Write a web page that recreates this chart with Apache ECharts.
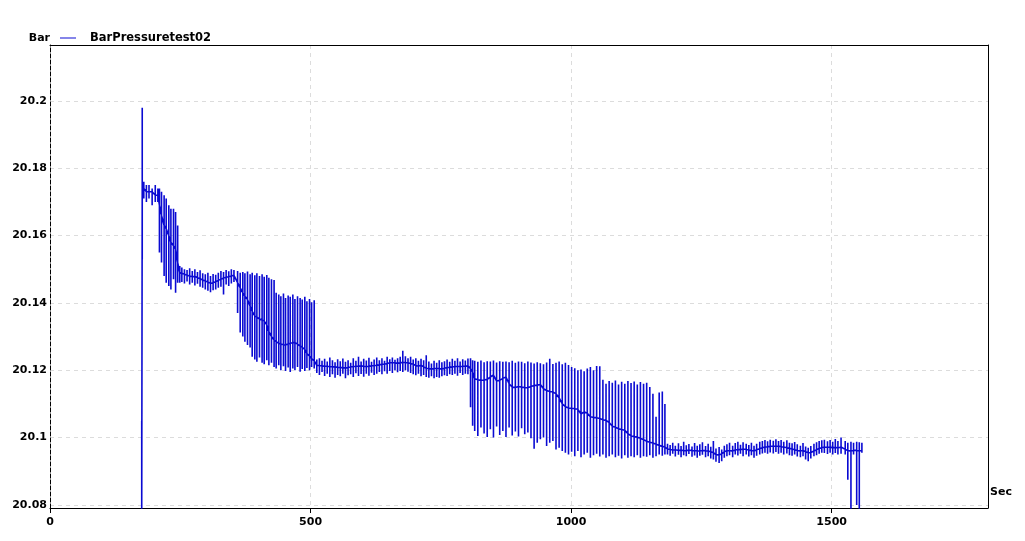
<!DOCTYPE html>
<html>
<head>
<meta charset="utf-8">
<script src="https://cdn.jsdelivr.net/npm/echarts@6/dist/echarts.min.js"></script>
<style>
html, body { margin: 0; padding: 0; background: #ffffff; }
#chart { width: 1025px; height: 541px; }
</style>
</head>
<body>
<div id="chart"></div>
<script>
// ---- data ----
const seriesName = 'BarPressuretest02';
const xAxisName = 'Sec';
const yAxisName = 'Bar';
const xTicks = [0, 500, 1000, 1500];
const yTicks = [20.08, 20.1, 20.12, 20.14, 20.16, 20.18, 20.2];

// time of each oscillation burst (seconds)
const timeSec = [
  176, 177,
  180, 185, 190, 196, 202, 207, 210, 214, 219, 223, 228, 232, 237, 241, 245, 249,
  253, 258, 263, 268, 273, 278, 283, 288, 293, 298, 303, 308, 313, 318, 323, 328, 333, 338, 343, 348, 353,
  360, 365, 370, 374, 379, 384, 388, 393, 397, 402, 407, 411, 416, 420, 425, 430, 434, 439, 443, 448,
  452, 457, 461, 466, 470, 475, 480, 484, 489, 493, 498, 502, 507,
  512, 517, 522, 527, 532, 537, 542, 547, 552, 557, 562, 567, 572, 577, 582, 587, 592, 597, 602, 607,
  612, 617, 622, 627, 632, 637, 642, 647, 652, 657, 662, 667, 672, 677, 682, 687, 692, 697, 702, 707,
  712, 717, 722, 727, 732, 737, 742, 747, 752, 757, 762, 767, 772, 777, 782, 787, 792, 797, 802,
  807, 811,
  815, 821, 827, 833, 839, 845, 851, 857, 863, 869, 875, 881, 887, 893, 899, 905, 911, 917, 923, 929,
  935, 941, 947, 953, 959, 965, 971, 977, 983, 989, 995, 1001, 1007, 1013, 1019, 1025, 1031, 1037, 1043, 1049,
  1055, 1061, 1067, 1073, 1079, 1085, 1091, 1097, 1103, 1109, 1115, 1121, 1127, 1133, 1139, 1145, 1151, 1157, 1163, 1169,
  1175, 1180,
  1185, 1190, 1195, 1200, 1206, 1211, 1216, 1221, 1226, 1232, 1237, 1242, 1247, 1252, 1258, 1263, 1268, 1273, 1278, 1284,
  1289, 1294, 1299, 1304, 1310, 1315, 1320, 1325, 1330, 1336, 1341, 1346, 1351, 1356, 1362, 1367, 1372, 1377, 1382, 1388,
  1393, 1398, 1403, 1408, 1414, 1419, 1424, 1429, 1434, 1440, 1445, 1450, 1455, 1460, 1466, 1471, 1476, 1481, 1486, 1492,
  1497, 1502, 1507, 1512, 1518,
  1526, 1531, 1537, 1542, 1548, 1553, 1558
];

// centre (running) pressure value at each burst (bar)
const midBar = [
  20.078, 20.175,
  20.174, 20.173, 20.173, 20.173, 20.172, 20.172, 20.169, 20.166, 20.163, 20.162, 20.160, 20.158, 20.157, 20.156, 20.152, 20.149,
  20.1488, 20.1485, 20.1482, 20.1480, 20.1478, 20.1479, 20.1475, 20.1472, 20.1468, 20.1465,
  20.1462, 20.1458, 20.1460, 20.1463, 20.1467, 20.1470, 20.1474, 20.1476, 20.1478, 20.1480, 20.1482,
  20.1460, 20.1445, 20.1430, 20.1420, 20.1410, 20.1390, 20.1375, 20.1362, 20.1358, 20.1352,
  20.1350, 20.1346, 20.1335, 20.1315, 20.1300, 20.1290, 20.1285, 20.1280, 20.1278, 20.1276,
  20.1275, 20.1278, 20.1280, 20.1282, 20.1282, 20.1278, 20.1272, 20.1268, 20.1262, 20.1250,
  20.1242, 20.1235, 20.1228,
  20.1215, 20.1214, 20.1213, 20.1212, 20.1212, 20.1211, 20.1210, 20.1210, 20.1209, 20.1208,
  20.1208, 20.1207, 20.1208, 20.1210, 20.1211, 20.1212, 20.1212, 20.1213, 20.1212, 20.1211,
  20.1212, 20.1213, 20.1214, 20.1215, 20.1216, 20.1218, 20.1218, 20.1220, 20.1222, 20.1223,
  20.1222, 20.1221, 20.1222, 20.1224, 20.1223, 20.1222, 20.1220, 20.1218, 20.1214, 20.1212,
  20.1215, 20.1210, 20.1206, 20.1205, 20.1204, 20.1205, 20.1206, 20.1205, 20.1204, 20.1206,
  20.1208, 20.1209, 20.1210, 20.1211, 20.1212, 20.1211, 20.1212, 20.1212, 20.1213,
  20.1205, 20.1195,
  20.1175, 20.1172, 20.1170, 20.1171, 20.1173, 20.1180, 20.1186, 20.1168, 20.1170, 20.1176,
  20.1180, 20.1160, 20.1150, 20.1149, 20.1152, 20.1150, 20.1149, 20.1148, 20.1152, 20.1155,
  20.1156, 20.1158, 20.1145, 20.1140, 20.1137, 20.1136, 20.1130, 20.1118, 20.1100, 20.1092,
  20.1088, 20.1087, 20.1086, 20.1084, 20.1070, 20.1077, 20.1072, 20.1062, 20.1060, 20.1059,
  20.1057, 20.1053, 20.1051, 20.1045, 20.1034, 20.1031, 20.1026, 20.1024, 20.1022, 20.1012,
  20.1005, 20.1003, 20.1001, 20.0998, 20.0994, 20.0989, 20.0986, 20.0984, 20.0980, 20.0977,
  20.0974, 20.0972,
  20.0966, 20.0965, 20.0963, 20.0964, 20.0962, 20.0963, 20.0961, 20.0962, 20.0963, 20.0961,
  20.0962, 20.0960, 20.0961, 20.0962, 20.0961, 20.0960, 20.0958, 20.0955, 20.0950, 20.0948,
  20.0952, 20.0958, 20.0961, 20.0962, 20.0960, 20.0963, 20.0965, 20.0964, 20.0966, 20.0965,
  20.0963, 20.0962, 20.0960, 20.0964, 20.0967, 20.0970, 20.0972, 20.0973, 20.0974, 20.0975,
  20.0974, 20.0975, 20.0973, 20.0972, 20.0970, 20.0968, 20.0966, 20.0964, 20.0962, 20.0960,
  20.0962, 20.0958, 20.0955, 20.0956, 20.0960, 20.0964, 20.0968, 20.0970, 20.0972, 20.0971,
  20.0972, 20.0970, 20.0971, 20.0969, 20.0972,
  20.0965, 20.0962, 20.0960, 20.0962, 20.0962, 20.0960, 20.0962
];

// upper end of each burst (bar)
const highBar = [
  20.105, 20.198,
  20.176, 20.175, 20.175, 20.174, 20.175, 20.174, 20.174, 20.173, 20.172, 20.171, 20.169, 20.168, 20.168, 20.167, 20.163, 20.151,
  20.1505, 20.1500, 20.1498, 20.1503, 20.1495, 20.1500, 20.1492, 20.1497, 20.1488, 20.1485,
  20.1490, 20.1480, 20.1486, 20.1484, 20.1490, 20.1495, 20.1492, 20.1498, 20.1494, 20.1500, 20.1498,
  20.1495, 20.1490, 20.1492, 20.1488, 20.1493, 20.1485, 20.1490, 20.1482, 20.1488, 20.1480,
  20.1485, 20.1478, 20.1483, 20.1475, 20.1470, 20.1468, 20.1430, 20.1425, 20.1420, 20.1428,
  20.1415, 20.1422, 20.1418, 20.1425, 20.1412, 20.1420, 20.1415, 20.1410, 20.1418, 20.1405,
  20.1412, 20.1402, 20.1408,
  20.1232, 20.1236, 20.1228, 20.1234, 20.1226, 20.1238, 20.1230, 20.1224, 20.1233, 20.1227,
  20.1235, 20.1225, 20.1230, 20.1222, 20.1236, 20.1228, 20.1240, 20.1226, 20.1234, 20.1229,
  20.1237, 20.1225, 20.1232, 20.1238, 20.1230, 20.1236, 20.1228, 20.1240, 20.1233, 20.1238,
  20.1231, 20.1236, 20.1240, 20.1258, 20.1242, 20.1236, 20.1240, 20.1232, 20.1236, 20.1228,
  20.1234, 20.1230, 20.1245, 20.1226, 20.1220, 20.1228, 20.1222, 20.1230, 20.1224, 20.1227,
  20.1232, 20.1225, 20.1234, 20.1228, 20.1236, 20.1226, 20.1233, 20.1229, 20.1235,
  20.1236, 20.1230,
  20.1228, 20.1225, 20.1229, 20.1224, 20.1227, 20.1226, 20.1229, 20.1223, 20.1227, 20.1225,
  20.1226, 20.1224, 20.1228, 20.1222, 20.1226, 20.1225, 20.1221, 20.1226, 20.1223, 20.1220,
  20.1224, 20.1221, 20.1218, 20.1223, 20.1234, 20.1219, 20.1222, 20.1226, 20.1218, 20.1222,
  20.1216, 20.1210, 20.1206, 20.1200, 20.1202, 20.1197, 20.1205, 20.1210, 20.1200, 20.1213,
  20.1212, 20.1172, 20.1160, 20.1168, 20.1163, 20.1170, 20.1158, 20.1166, 20.1160, 20.1168,
  20.1162, 20.1167, 20.1158, 20.1165, 20.1160, 20.1163, 20.1150, 20.1130, 20.1062, 20.1134,
  20.1137, 20.1100,
  20.0982, 20.0978, 20.0985, 20.0976, 20.0983, 20.0975, 20.0988, 20.0977, 20.0981, 20.0974,
  20.0984, 20.0976, 20.0980, 20.0986, 20.0975, 20.0982, 20.0973, 20.0990, 20.0968, 20.0972,
  20.0965, 20.0976, 20.0980, 20.0985, 20.0976, 20.0984, 20.0988, 20.0979, 20.0986, 20.0982,
  20.0978, 20.0985, 20.0976, 20.0982, 20.0988, 20.0990, 20.0993, 20.0989, 20.0994, 20.0991,
  20.0995, 20.0990, 20.0993, 20.0988, 20.0992, 20.0985, 20.0983, 20.0987, 20.0980, 20.0976,
  20.0984, 20.0974, 20.0970, 20.0975, 20.0982, 20.0986, 20.0990, 20.0992, 20.0994, 20.0989,
  20.0993, 20.0988, 20.0996, 20.0990, 20.1000,
  20.0990, 20.0985, 20.0988, 20.0985, 20.0988, 20.0986, 20.0985
];

// lower end of each burst (bar)
const lowBar = [
  20.078, 20.153,
  20.171, 20.170, 20.171, 20.169, 20.170, 20.170, 20.155, 20.152, 20.148, 20.146, 20.145, 20.144, 20.147, 20.143, 20.146, 20.146,
  20.1462, 20.1458, 20.1464, 20.1455, 20.1460, 20.1452, 20.1457, 20.1448, 20.1445, 20.1440,
  20.1436, 20.1432, 20.1438, 20.1440, 20.1445, 20.1448, 20.1425, 20.1455, 20.1450, 20.1458, 20.1462,
  20.1370, 20.1312, 20.1300, 20.1285, 20.1275, 20.1268, 20.1240, 20.1232, 20.1225, 20.1238,
  20.1222, 20.1218, 20.1230, 20.1215, 20.1222, 20.1210, 20.1205, 20.1215, 20.1200, 20.1212,
  20.1198, 20.1208, 20.1195, 20.1205, 20.1200, 20.1210, 20.1196, 20.1204, 20.1198, 20.1207,
  20.1200, 20.1210, 20.1205,
  20.1192, 20.1186, 20.1195, 20.1183, 20.1190, 20.1180, 20.1188, 20.1178, 20.1186, 20.1182,
  20.1190, 20.1176, 20.1185, 20.1188, 20.1180, 20.1191, 20.1183, 20.1189, 20.1181, 20.1190,
  20.1184, 20.1193, 20.1186, 20.1190, 20.1195, 20.1188, 20.1197, 20.1190, 20.1198, 20.1192,
  20.1200, 20.1194, 20.1198, 20.1195, 20.1200, 20.1196, 20.1192, 20.1188, 20.1185, 20.1190,
  20.1182, 20.1186, 20.1180, 20.1178, 20.1182, 20.1176, 20.1180, 20.1178, 20.1182, 20.1185,
  20.1183, 20.1188, 20.1186, 20.1190, 20.1184, 20.1192, 20.1186, 20.1190, 20.1188,
  20.1090, 20.1035,
  20.1020, 20.1005, 20.1030, 20.1012, 20.1002, 20.1025, 20.1000, 20.1033, 20.1008, 20.1020,
  20.1002, 20.1030, 20.1006, 20.1018, 20.1003, 20.1028, 20.1010, 20.1015, 20.0998, 20.0967,
  20.0985, 20.0995, 20.1000, 20.0975, 20.0985, 20.0990, 20.0965, 20.0970, 20.0960, 20.0955,
  20.0950, 20.0958, 20.0945, 20.0960, 20.0942, 20.0950, 20.0955, 20.0940, 20.0948, 20.0952,
  20.0944, 20.0950, 20.0940, 20.0945, 20.0950, 20.0942, 20.0946, 20.0938, 20.0948, 20.0940,
  20.0945, 20.0942, 20.0948, 20.0940, 20.0945, 20.0943, 20.0948, 20.0940, 20.0945, 20.0950,
  20.0946, 20.0950,
  20.0950, 20.0946, 20.0952, 20.0944, 20.0949, 20.0942, 20.0948, 20.0945, 20.0951, 20.0943,
  20.0947, 20.0940, 20.0946, 20.0949, 20.0942, 20.0945, 20.0938, 20.0935, 20.0928, 20.0925,
  20.0930, 20.0940, 20.0945, 20.0948, 20.0942, 20.0950, 20.0947, 20.0952, 20.0945, 20.0950,
  20.0944, 20.0948, 20.0940, 20.0946, 20.0950, 20.0953, 20.0955, 20.0952, 20.0956, 20.0953,
  20.0957, 20.0952, 20.0955, 20.0950, 20.0953, 20.0948, 20.0946, 20.0950, 20.0944, 20.0942,
  20.0945, 20.0935, 20.0930, 20.0938, 20.0945, 20.0948, 20.0952, 20.0955, 20.0954, 20.0951,
  20.0955, 20.0950, 20.0954, 20.0950, 20.0952,
  20.0950, 20.0875, 20.0785, 20.0950, 20.0800, 20.0785, 20.0955
];

// ---- build the polyline: each burst is drawn centre -> high -> low -> centre ----
const lineData = [];
timeSec.forEach(function (t, i) {
  lineData.push([t, midBar[i]], [t, highBar[i]], [t, lowBar[i]], [t, midBar[i]]);
});

const FONT = 'DejaVu Sans';
const LINE_COLOR = '#0a0ad2';
const textBase = { color: '#000', fontFamily: FONT, fontWeight: 'bold', fontSize: 11 };

const chart = echarts.init(document.getElementById('chart'), null, { renderer: 'canvas' });
chart.setOption({
  animation: false,
  backgroundColor: '#ffffff',
  grid: { left: 50, right: 37, top: 45, bottom: 33, containLabel: false },
  legend: {
    data: [seriesName],
    left: 55, top: 27,
    icon: 'rect',
    itemWidth: 16, itemHeight: 1,
    selectedMode: false,
    textStyle: Object.assign({}, textBase, { fontSize: 11.5, padding: [0, 0, 0, 9] })
  },
  xAxis: [{
    type: 'value', position: 'bottom',
    min: 0, max: 1800, interval: 500,
    name: xAxisName, nameLocation: 'end', nameGap: 2,
    nameTextStyle: Object.assign({}, textBase, { align: 'left', verticalAlign: 'bottom', padding: [0, 0, 10, 0] }),
    axisLine: { show: true, onZero: false, lineStyle: { color: '#000', width: 1 } },
    axisTick: { show: true, length: 5, customValues: xTicks, lineStyle: { color: '#000' } },
    axisLabel: Object.assign({}, textBase, {
      customValues: xTicks, margin: 9,
      formatter: function (v) { return String(v); }
    }),
    splitLine: { show: true, lineStyle: { color: '#dcdcdc', type: [4, 4], width: 1 } }
  }, {
    type: 'value', position: 'top', min: 0, max: 1800,
    axisLine: { show: true, onZero: false, lineStyle: { color: '#000', width: 1 } },
    axisTick: { show: false }, axisLabel: { show: false }, splitLine: { show: false }
  }],
  yAxis: [{
    type: 'value', position: 'left',
    min: 20.0791, max: 20.2166,
    name: yAxisName, nameLocation: 'end', nameGap: 7,
    nameTextStyle: Object.assign({}, textBase, { align: 'right', verticalAlign: 'middle' }),
    axisLine: { show: true, onZero: false, lineStyle: { color: '#000', type: [4, 2], width: 1 } },
    axisTick: { show: false, customValues: yTicks },
    axisLabel: Object.assign({}, textBase, {
      customValues: yTicks, margin: 3, padding: [0, 0, 6, 0],
      formatter: function (v) { return String(Number(v.toFixed(2))); }
    }),
    splitLine: { show: true, lineStyle: { color: '#dcdcdc', type: [4, 4], width: 1 } }
  }, {
    type: 'value', position: 'right', min: 20.0791, max: 20.2166,
    axisLine: { show: true, onZero: false, lineStyle: { color: '#000', width: 1 } },
    axisTick: { show: false }, axisLabel: { show: false }, splitLine: { show: false }
  }],
  series: [{
    name: seriesName,
    type: 'line',
    xAxisIndex: 0, yAxisIndex: 0,
    data: lineData,
    symbol: 'none', showSymbol: false,
    clip: true, silent: true,
    lineStyle: { color: LINE_COLOR, width: 1.6 },
    itemStyle: { color: LINE_COLOR }
  }]
});
</script>
</body>
</html>
